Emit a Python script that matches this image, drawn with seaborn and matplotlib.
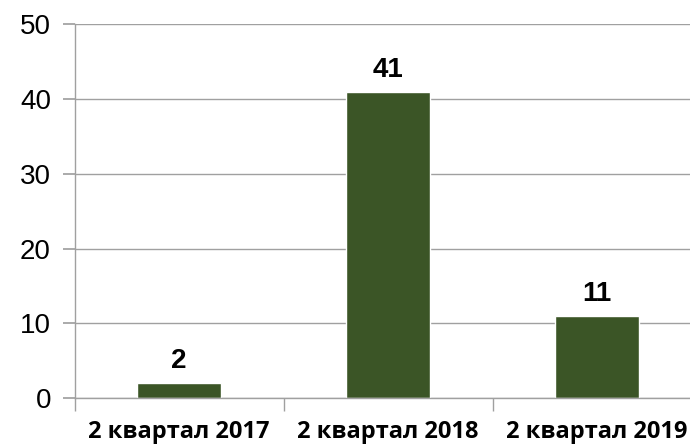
import matplotlib
matplotlib.use("Agg")
import matplotlib.pyplot as plt
import seaborn as sns
import pandas as pd

categories = ["2 квартал 2017", "2 квартал 2018", "2 квартал 2019"]
values = [2, 41, 11]

df = pd.DataFrame({"cat": categories, "val": values})

sns.set_theme(style="white")
plt.rcParams['font.family'] = ['Liberation Sans', 'DejaVu Sans']
plt.rcParams['text.color'] = 'black'
plt.rcParams['xtick.color'] = 'black'
plt.rcParams['ytick.color'] = 'black'

fig = plt.figure(figsize=(6.9, 4.48), dpi=100)
ax = fig.add_axes([74.5/690, 50/448, 627/690, (398-24.5)/448])

sns.barplot(data=df, x="cat", y="val", color="#3B5526", width=0.4, saturation=1, ax=ax)

ax.set_ylim(0, 50)
ax.set_xlim(-0.5, 2.5)
ax.set_yticks([0, 10, 20, 30, 40, 50])
ax.yaxis.grid(True, color="#A0A0A0", linewidth=1)
ax.set_axisbelow(True)
ax.set_xlabel("")
ax.set_ylabel("")

for s in ["top", "right"]:
    ax.spines[s].set_visible(False)
ax.spines["left"].set_color("#A0A0A0")
ax.spines["bottom"].set_color("#A0A0A0")
ax.spines["left"].set_linewidth(1)
ax.spines["bottom"].set_linewidth(1)

ax.tick_params(axis="y", which="both", left=True, length=9, color="#A0A0A0",
               labelcolor="black", labelsize=20, pad=8)

# x tick marks at category boundaries, labels at centers
ax.set_xticks([0, 1, 2])
ax.set_xticklabels(categories, fontsize=17, fontweight="bold", color="black",
                   family=["Open Sans", "DejaVu Sans"])
ax.tick_params(axis="x", which="major", bottom=False, pad=10)
ax.set_xticks([-0.5, 0.5, 1.5, 2.5], minor=True)
ax.tick_params(axis="x", which="minor", bottom=True, length=9, color="#A0A0A0", width=1)

for i, v in enumerate(values):
    ax.text(i, v + 1.2, str(v), ha="center", va="bottom", fontsize=20,
            fontweight="bold", color="black")

fig.savefig("out.png", dpi=100)
